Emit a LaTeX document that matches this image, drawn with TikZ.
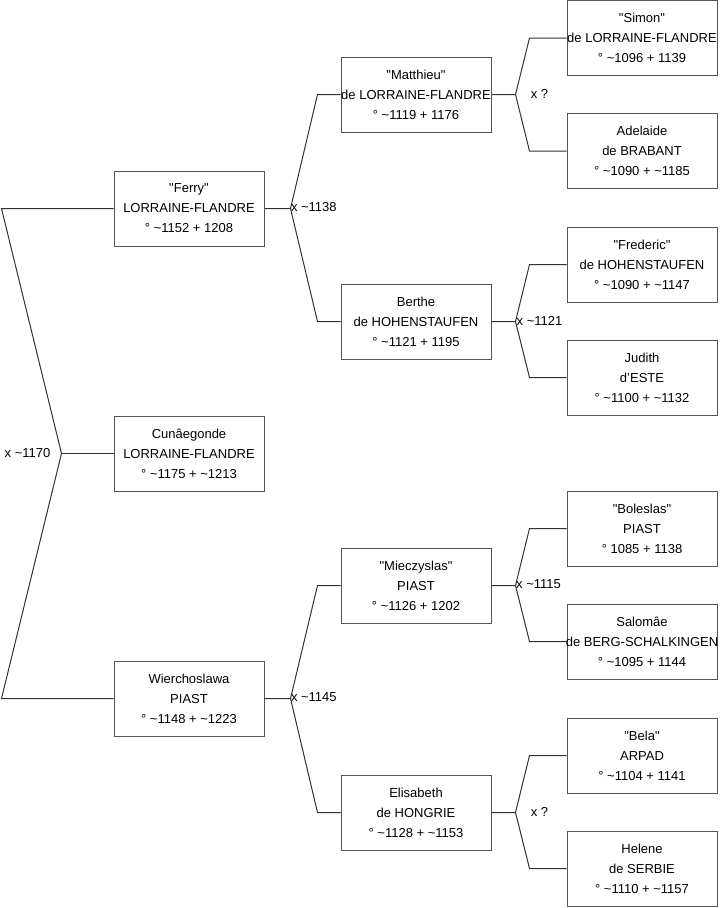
\documentclass[tikz,border=0pt]{standalone}
\usepackage{fontspec}
\setmainfont{Liberation Sans}
\usetikzlibrary{calc}
\definecolor{cline}{HTML}{333333}
\definecolor{cbox}{HTML}{555555}
\newcommand{\qq}{\textquotedbl}
\tikzset{
  every picture/.style={line width=0.75pt},
  person/.style={draw=cbox, fill=white, align=center, inner sep=0pt,
    minimum width=112.5pt, minimum height=56.25pt, font=\fontsize{9.75}{15}\selectfont},
  link/.style={draw=cline, line width=0.75pt},
  wed/.style={font=\fontsize{9.75}{12}\selectfont, inner sep=0pt},
}

\begin{document}
\begin{tikzpicture}[x=0.75pt, y=-0.75pt]
  \useasboundingbox (0,0) rectangle (719,908);
  % people
  \foreach \n/\x/\y/\t in {
      ferry/189/208.5/{\qq Ferry\qq\\LORRAINE-FLANDRE\\° \textasciitilde 1152 + 1208},
      cunegonde/189/453.5/{Cunâegonde\\LORRAINE-FLANDRE\\° \textasciitilde 1175 + \textasciitilde 1213},
      wierch/189/698.5/{Wierchoslawa\\PIAST\\° \textasciitilde 1148 + \textasciitilde 1223},
      matthieu/416/94.5/{\qq Matthieu\qq\\de LORRAINE-FLANDRE\\° \textasciitilde 1119 + 1176},
      berthe/416/321.5/{Berthe\\de HOHENSTAUFEN\\° \textasciitilde 1121 + 1195},
      mieczyslas/416/585.5/{\qq Mieczyslas\qq\\PIAST\\° \textasciitilde 1126 + 1202},
      elisabeth/416/812.5/{Elisabeth\\de HONGRIE\\° \textasciitilde 1128 + \textasciitilde 1153},
      simon/642/38/{\qq Simon\qq\\\makebox[100pt]{de LORRAINE-FLANDRE}\\° \textasciitilde 1096 + 1139},
      adelaide/642/151/{Adelaide\\de BRABANT\\° \textasciitilde 1090 + \textasciitilde 1185},
      frederic/642/264.5/{\qq Frederic\qq\\de HOHENSTAUFEN\\° \textasciitilde 1090 + \textasciitilde 1147},
      judith/642/377.5/{Judith\\d'ESTE\\° \textasciitilde 1100 + \textasciitilde 1132},
      boleslas/642/528.5/{\qq Boleslas\qq\\PIAST\\° 1085 + 1138},
      salomae/642/641.5/{Salomâe\\\makebox[100pt]{de BERG-SCHALKINGEN}\\° \textasciitilde 1095 + 1144},
      bela/642/755.5/{\qq Bela\qq\\ARPAD\\° \textasciitilde 1104 + 1141},
      helene/642/868.5/{Helene\\de SERBIE\\° \textasciitilde 1110 + \textasciitilde 1157}} {
    \node[person] (\n) at (\x,\y) {\t};
  }
  % first couple, drawn to the left
  \coordinate (jroot) at ($(cunegonde.west)-(52,0)$);
  \draw[link] (ferry.west) -- ($(ferry.west)-(112,0)$) -- (jroot) -- ($(wierch.west)-(112,0)$) -- (wierch.west);
  \draw[link] (jroot) -- (cunegonde.west);
  \node[wed] (wedroot) at (27.5,453) {x \textasciitilde 1170};
  % parents of each child
  \foreach \p/\u/\d/\a/\b in {ferry/matthieu/berthe/26/23, wierch/mieczyslas/elisabeth/26/23,
      matthieu/simon/adelaide/24/37, berthe/frederic/judith/24/37,
      mieczyslas/boleslas/salomae/24/37, elisabeth/bela/helene/24/37} {
    \coordinate (j\p) at ($(\p.east)+(\a,0)$);
    \draw[link] (\p.east) -- (j\p) -- ($(\u.west)-(\b,0)$) -- (\u.west);
    \draw[link] (j\p) -- ($(\d.west)-(\b,0)$) -- (\d.west);
  }
  % marriages
  \node[wed, anchor=west] (wedferry) at ($(jferry)+(0,-1)$) {x \textasciitilde 1138};
  \node[wed, anchor=west] (wedwierch) at ($(jwierch)+(0,-1)$) {x \textasciitilde 1145};
  \node[wed] (wedmatthieu) at ($(jmatthieu)+(24,-1)$) {x ?};
  \node[wed] (wedberthe) at ($(jberthe)+(24,-1)$) {x \textasciitilde 1121};
  \node[wed] (wedmieczyslas) at ($(jmieczyslas)+(23,-1)$) {x \textasciitilde 1115};
  \node[wed] (wedelisabeth) at ($(jelisabeth)+(24,-1)$) {x ?};
\end{tikzpicture}
\end{document}
